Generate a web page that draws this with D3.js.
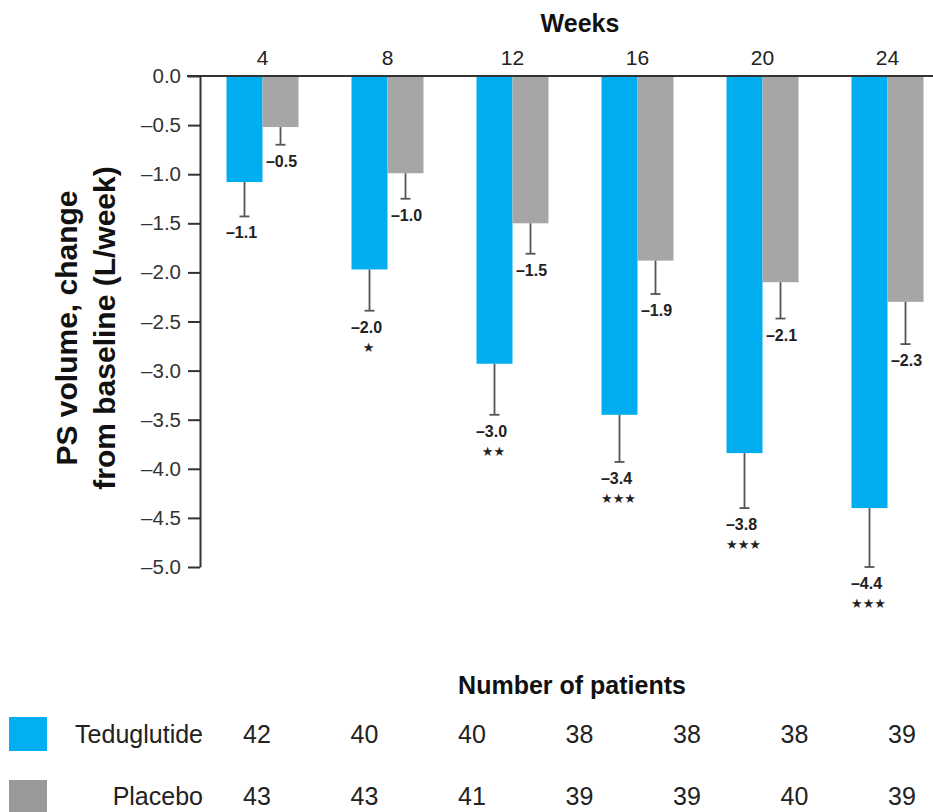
<!DOCTYPE html>
<html>
<head>
<meta charset="utf-8">
<script src="https://cdn.jsdelivr.net/npm/d3@7"></script>
<style>
  html, body { margin: 0; padding: 0; background: #fff; }
  svg { display: block; font-family: "Liberation Sans", Arial, Helvetica, sans-serif; }
</style>
</head>
<body>
<svg id="chart" width="933" height="812"></svg>
<script>
// ---- Data ----
const weeks = ["4", "8", "12", "16", "20", "24"];
const tedValues = [-1.08, -1.97, -2.93, -3.45, -3.84, -4.40];
const tedSE = [0.35, 0.42, 0.52, 0.48, 0.56, 0.60];
const tedLabels = ["–1.1", "–2.0", "–3.0", "–3.4", "–3.8", "–4.4"];
const placeboValues = [-0.52, -0.99, -1.50, -1.88, -2.10, -2.30];
const placeboSE = [0.18, 0.26, 0.31, 0.34, 0.37, 0.43];
const placeboLabels = ["–0.5", "–1.0", "–1.5", "–1.9", "–2.1", "–2.3"];
const significance = ["", "★", "★★", "★★★", "★★★", "★★★"];
const yTicks = [0, -0.5, -1.0, -1.5, -2.0, -2.5, -3.0, -3.5, -4.0, -4.5, -5.0];
const seriesNames = ["Teduglutide", "Placebo"];
const tedPatients = [42, 40, 40, 38, 38, 38, 39];
const placeboPatients = [43, 43, 41, 39, 39, 40, 39];

const colors = { Teduglutide: "#00aeef", Placebo: "#a6a6a6" };
const legendColors = { Teduglutide: "#00b0f0", Placebo: "#999999" };

const svg = d3.select("#chart");

// ---- Scales ----
const y = d3.scaleLinear().domain([0, -5]).range([76, 567]);
const x0 = d3.scaleBand().domain(weeks).range([200, 950]).paddingInner(0.424).paddingOuter(0.212);
const x1 = d3.scaleBand().domain(seriesNames).range([0, x0.bandwidth()]);

const dash = s => s.replace(/[-−]/g, "–");

// ---- Bars ----
const groups = weeks.map((w, i) => ({
  week: w,
  items: [
    { s: "Teduglutide", v: tedValues[i], se: tedSE[i], label: tedLabels[i], star: significance[i] },
    { s: "Placebo", v: placeboValues[i], se: placeboSE[i], label: placeboLabels[i], star: "" }
  ]
}));

const g = svg.selectAll("g.grp").data(groups).join("g")
  .attr("class", "grp")
  .attr("transform", d => `translate(${x0(d.week)},0)`);

g.selectAll("rect").data(d => d.items).join("rect")
  .attr("x", d => x1(d.s))
  .attr("width", x1.bandwidth())
  .attr("y", y(0))
  .attr("height", d => y(d.v) - y(0))
  .attr("fill", d => colors[d.s]);

// error bars
const eb = g.selectAll("g.eb").data(d => d.items).join("g").attr("class", "eb");
eb.append("line")
  .attr("x1", d => x1(d.s) + x1.bandwidth() / 2)
  .attr("x2", d => x1(d.s) + x1.bandwidth() / 2)
  .attr("y1", d => y(d.v))
  .attr("y2", d => y(d.v - d.se))
  .attr("stroke", "#555").attr("stroke-width", 1.8);
eb.append("line")
  .attr("x1", d => x1(d.s) + x1.bandwidth() / 2 - 5)
  .attr("x2", d => x1(d.s) + x1.bandwidth() / 2 + 5)
  .attr("y1", d => y(d.v - d.se))
  .attr("y2", d => y(d.v - d.se))
  .attr("stroke", "#555").attr("stroke-width", 1.8);

// value labels
eb.append("text")
  .attr("x", d => x1(d.s) + x1.bandwidth() / 2 - (d.s === "Teduglutide" ? 3 : -1))
  .attr("y", d => y(d.v - d.se) + 22)
  .attr("text-anchor", "middle")
  .attr("font-size", 16).attr("font-weight", "bold").attr("fill", "#222")
  .text(d => d.label);

eb.filter(d => d.star).append("text")
  .attr("x", d => x1(d.s) + x1.bandwidth() / 2 - 1)
  .attr("y", d => y(d.v - d.se) + 41)
  .attr("text-anchor", "middle")
  .attr("font-family", "DejaVu Sans")
  .attr("font-size", 13).attr("fill", "#222")
  .text(d => d.star);

// ---- Axes ----
const yAxis = d3.axisLeft(y).tickValues(yTicks).tickSize(12).tickSizeOuter(0).tickPadding(7)
  .tickFormat(d => dash(d3.format(".1f")(d)));
const yg = svg.append("g").attr("transform", "translate(200,0)").call(yAxis);
yg.select(".domain").attr("stroke", "#333").attr("stroke-width", 2);
yg.selectAll(".tick line").attr("stroke", "#333").attr("stroke-width", 2);
yg.selectAll(".tick text").attr("font-size", 20.5).attr("fill", "#333")
  .attr("font-family", "\"Liberation Sans\", Arial, sans-serif");

const xAxis = d3.axisTop(x0).tickSize(0).tickPadding(11);
const xg = svg.append("g").attr("transform", `translate(0,${y(0)})`).call(xAxis);
xg.select(".domain").remove();
xg.selectAll(".tick text").attr("font-size", 21).attr("fill", "#222")
  .attr("font-family", "\"Liberation Sans\", Arial, sans-serif");

svg.append("line")
  .attr("x1", 187).attr("x2", 933).attr("y1", y(0)).attr("y2", y(0))
  .attr("stroke", "#333").attr("stroke-width", 2);

// axis titles
svg.append("text").attr("x", 580).attr("y", 32).attr("text-anchor", "middle")
  .attr("font-size", 25).attr("font-weight", "bold").attr("fill", "#111").text("Weeks");

svg.append("text").attr("transform", "translate(77,328) rotate(-90)")
  .attr("text-anchor", "middle").attr("font-size", 30).attr("font-weight", "bold").attr("fill", "#111")
  .text("PS volume, change");
svg.append("text").attr("transform", "translate(115,328) rotate(-90)")
  .attr("text-anchor", "middle").attr("font-size", 30).attr("font-weight", "bold").attr("fill", "#111")
  .text("from baseline (L/week)");

// ---- Patient table ----
svg.append("text").attr("x", 572).attr("y", 694).attr("text-anchor", "middle")
  .attr("font-size", 25).attr("font-weight", "bold").attr("fill", "#111").text("Number of patients");

const cols = d3.scalePoint().domain(d3.range(tedPatients.length)).range([257, 902]);
const rows = [
  { name: "Teduglutide", vals: tedPatients, base: 743, top: 717 },
  { name: "Placebo", vals: placeboPatients, base: 805, top: 780 }
];
rows.forEach(r => {
  svg.append("rect").attr("x", 9).attr("y", r.top).attr("width", 38).attr("height", 34)
    .attr("fill", legendColors[r.name]);
  svg.append("text").attr("x", 203).attr("y", r.base).attr("text-anchor", "end")
    .attr("font-size", 25).attr("fill", "#222").text(r.name);
  svg.selectAll(null).data(r.vals).join("text")
    .attr("x", (d, i) => cols(i)).attr("y", r.base).attr("text-anchor", "middle")
    .attr("font-size", 25).attr("fill", "#222").text(d => d);
});
</script>
</body>
</html>
